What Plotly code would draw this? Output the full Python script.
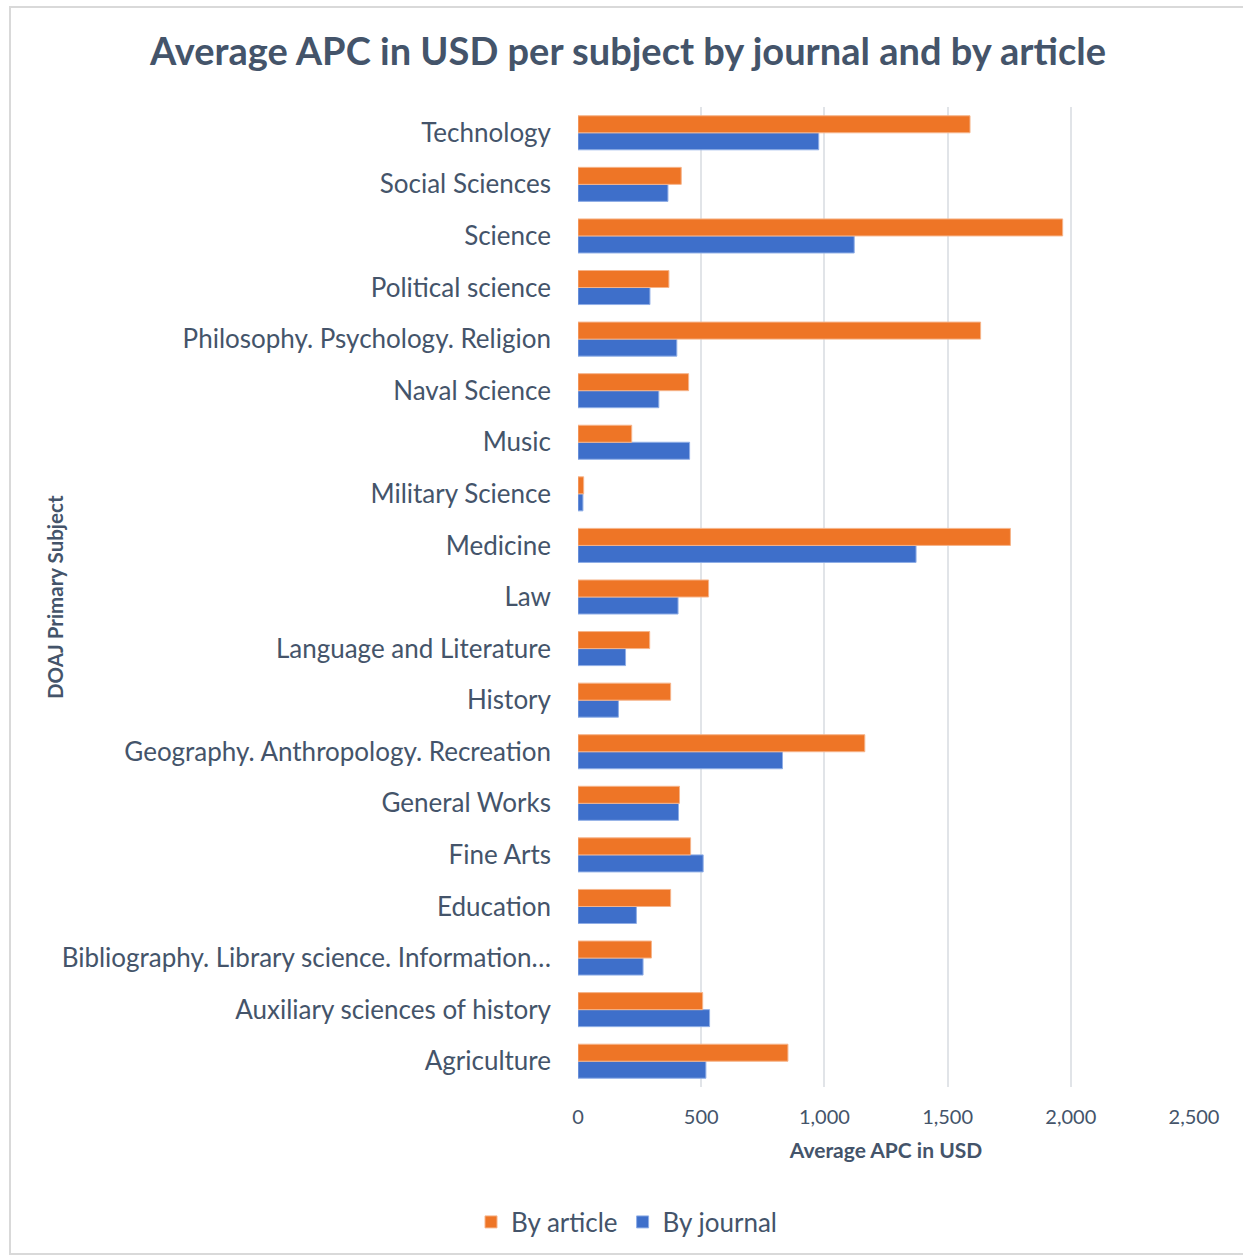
import plotly.graph_objects as go

# DOAJ primary subjects, listed bottom-to-top as they appear on the axis
subjects = [
    "Agriculture",
    "Auxiliary sciences of history",
    "Bibliography. Library science. Information…",
    "Education",
    "Fine Arts",
    "General Works",
    "Geography. Anthropology. Recreation",
    "History",
    "Language and Literature",
    "Law",
    "Medicine",
    "Military Science",
    "Music",
    "Naval Science",
    "Philosophy. Psychology. Religion",
    "Political science",
    "Science",
    "Social Sciences",
    "Technology",
]

# Average APC (USD) by journal
by_journal = [519, 534, 264, 237, 508, 408, 830, 164, 193, 406,
              1372, 20, 453, 328, 401, 292, 1121, 365, 977]

# Average APC (USD) by article
by_article = [852, 506, 298, 376, 457, 412, 1164, 376, 291, 530,
              1755, 23, 218, 449, 1634, 369, 1967, 419, 1591]

TEXT = "#44546A"
FONT = "Lato"

fig = go.Figure()
fig.add_trace(go.Bar(
    y=subjects, x=by_journal, name="By journal", orientation="h",
    marker=dict(color="#3E6FCA", line=dict(color="#8FAEE6", width=1)),
))
fig.add_trace(go.Bar(
    y=subjects, x=by_article, name="By article", orientation="h",
    marker=dict(color="#EE7526", line=dict(color="#F6B48A", width=1)),
))

fig.update_layout(
    width=1243, height=1258,
    paper_bgcolor="white", plot_bgcolor="white",
    margin=dict(l=578, r=49, t=107, b=171),
    barmode="group", bargap=0.34, bargroupgap=0,
    font=dict(family=FONT, color=TEXT),
    title=dict(
        text="<b>Average APC in USD per subject by journal and by article</b>",
        x=628 / 1243, xref="container", xanchor="center",
        y=1 - 52 / 1258, yref="container", yanchor="middle",
        font=dict(size=38, color=TEXT, family=FONT),
    ),
    xaxis=dict(
        range=[0, 2500], dtick=500, tickformat=",",
        showgrid=True, gridcolor="#E1E4E8", gridwidth=1.5,
        zeroline=False, showline=False,
        tickfont=dict(size=20, color=TEXT), ticks="", ticklabelstandoff=16,
        title=dict(text="<b>Average APC in USD</b>", font=dict(size=21, color=TEXT), standoff=16),
    ),
    yaxis=dict(
        showgrid=False, zeroline=False, showline=False,
        tickfont=dict(size=26, color=TEXT), ticks="", ticklabelstandoff=26,
    ),
    legend=dict(
        orientation="h", traceorder="reversed",
        x=627 / 1243, xref="container", xanchor="center",
        y=1 - 1222 / 1258, yref="container", yanchor="middle",
        font=dict(size=26, color=TEXT), itemwidth=30,
    ),
    annotations=[dict(
        text="<b>DOAJ Primary Subject</b>", textangle=-90,
        xref="paper", yref="paper", x=(55 - 578) / 616, y=0.5,
        xanchor="center", yanchor="middle", showarrow=False,
        font=dict(size=20.5, color=TEXT),
    )],
    shapes=[dict(
        type="rect", xref="paper", yref="paper",
        x0=-568 / 616, x1=1.1, y0=-167 / 980, y1=1 + 100 / 980,
        line=dict(color="#D9D9D9", width=2), layer="below",
    )],
)

fig.write_html("out.html")
